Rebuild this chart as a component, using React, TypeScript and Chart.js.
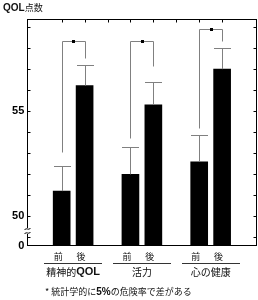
import React, { useEffect, useRef } from 'react';
import { Chart, registerables } from 'chart.js';

Chart.register(...registerables);

// ---- data ----
const xTickLabels = ['', '前', '後', '', '前', '後', '', '前', '後', ''];
const barPositions = [1, 2, 4, 5, 7, 8];
const means = [51.2, 56.23, 52.0, 55.31, 52.59, 57.01];
const errors = [1.21, 0.99, 1.32, 1.11, 1.29, 1.03];
const groupNames = ['精神的QOL', '活力', '心の健康'];
const groupCenters = [1.5, 4.5, 7.5];
const bracketLevels = [58.33, 58.33, 58.94];
const bracketLeftEnds = [53.08, 53.72, 54.2];
const bracketRightEnds = [57.54, 57.14, 58.33];
const yMin = 48.6;
const yMax = 59.4;
const yTickValues = [48.6, 49, 50, 51, 52, 53, 54, 55, 56, 57, 58, 59];
const yTickLabels: Record<string, string> = { '48.6': '0', '50': '50', '55': '55' };
const breakValue = 49.3;
const titleText = 'QOL点数';
const footnoteText = '* 統計学的に5%の危険率で差がある';

const CJK = "'Noto Sans CJK JP', 'Noto Sans', sans-serif";
const LATIN_BOLD = "'Liberation Sans Narrow', 'Liberation Sans', Arial, sans-serif";

function drawRich(ctx: CanvasRenderingContext2D, text: string, x: number, y: number, size: number, align: 'left' | 'center') {
  const runs: { t: string; bold: boolean }[] = [];
  const re = /[A-Za-z0-9%]+/g;
  let last = 0;
  let m: RegExpExecArray | null;
  while ((m = re.exec(text))) {
    if (m.index > last) runs.push({ t: text.slice(last, m.index), bold: false });
    runs.push({ t: m[0], bold: true });
    last = m.index + m[0].length;
  }
  if (last < text.length) runs.push({ t: text.slice(last), bold: false });
  const fontFor = (r: { bold: boolean }) =>
    r.bold ? `bold ${size + 1}px ${LATIN_BOLD}` : `${size}px ${CJK}`;
  let total = 0;
  const widths = runs.map((r) => {
    ctx.font = fontFor(r);
    const w = ctx.measureText(r.t).width;
    total += w;
    return w;
  });
  let cx = align === 'center' ? x - total / 2 : x;
  ctx.textBaseline = 'middle';
  ctx.textAlign = 'left';
  runs.forEach((r, i) => {
    ctx.font = fontFor(r);
    ctx.fillText(r.t, cx, y);
    cx += widths[i];
  });
}

const decorPlugin = {
  id: 'decor',
  afterDatasetsDraw(chart: any) {
    const { ctx, chartArea: a, scales } = chart;
    const x = scales.x;
    const y = scales.y;
    const meta = chart.getDatasetMeta(0);
    const px = (v: number) => Math.round(v) + 0.5;
    ctx.save();
    ctx.lineWidth = 1;
    ctx.strokeStyle = '#000';
    const L = px(a.left - 0.5);
    const R = px(a.right - 0.5);
    const T = px(a.top);
    const B = px(a.bottom - 0.5);
    ctx.strokeRect(L, T, R - L, B - T);

    // inward ticks
    ctx.beginPath();
    yTickValues.forEach((v) => {
      if (v < 49) return;
      const yy = px(y.getPixelForValue(v));
      ctx.moveTo(L, yy);
      ctx.lineTo(L + 3, yy);
      ctx.moveTo(R, yy);
      ctx.lineTo(R - 3, yy);
    });
    for (let i = 1; i < xTickLabels.length - 1; i++) {
      const xx = px(x.getPixelForValue(i));
      ctx.moveTo(xx, T);
      ctx.lineTo(xx, T + 3);
    }
    ctx.stroke();

    // axis break
    const by = y.getPixelForValue(breakValue);
    ctx.fillStyle = '#fff';
    ctx.fillRect(L - 1, by - 3, 3, 6);
    ctx.beginPath();
    [-2, 2].forEach((d) => {
      const yy = by + d;
      ctx.moveTo(L - 3, yy + 1);
      ctx.bezierCurveTo(L - 1, yy - 2, L + 1, yy + 2, L + 3, yy - 1);
    });
    ctx.stroke();

    // error bars
    ctx.strokeStyle = '#808080';
    ctx.beginPath();
    meta.data.forEach((bar: any, i: number) => {
      const cx = px(bar.x);
      const top = y.getPixelForValue(means[i]);
      const et = px(y.getPixelForValue(means[i] + errors[i]));
      const half = bar.width / 2;
      ctx.moveTo(cx, top);
      ctx.lineTo(cx, et);
      ctx.moveTo(cx - half, et);
      ctx.lineTo(cx + half, et);
    });
    // significance brackets
    groupCenters.forEach((_c, g) => {
      const lx = px(x.getPixelForValue(barPositions[g * 2]));
      const rx = px(x.getPixelForValue(barPositions[g * 2 + 1]));
      const ly = px(y.getPixelForValue(bracketLevels[g]));
      ctx.moveTo(lx, px(y.getPixelForValue(bracketLeftEnds[g])));
      ctx.lineTo(lx, ly);
      ctx.lineTo(rx, ly);
      ctx.lineTo(rx, px(y.getPixelForValue(bracketRightEnds[g])));
    });
    ctx.stroke();
    ctx.fillStyle = '#000';
    groupCenters.forEach((_c, g) => {
      const lx = x.getPixelForValue(barPositions[g * 2]);
      const rx = x.getPixelForValue(barPositions[g * 2 + 1]);
      const ly = Math.round(y.getPixelForValue(bracketLevels[g]));
      ctx.fillRect(Math.round((lx + rx) / 2) - 1, ly - 1, 3, 3);
    });
    ctx.restore();
  },
  afterDraw(chart: any) {
    const { ctx, chartArea: a, scales } = chart;
    const x = scales.x;
    ctx.save();
    ctx.fillStyle = '#111';
    ctx.strokeStyle = '#333';
    ctx.lineWidth = 1;
    const lineY = Math.round(a.bottom + 17) + 0.5;
    ctx.beginPath();
    groupCenters.forEach((c) => {
      ctx.moveTo(Math.round(x.getPixelForValue(c - 1.27)), lineY);
      ctx.lineTo(Math.round(x.getPixelForValue(c + 1.27)), lineY);
    });
    ctx.stroke();
    groupCenters.forEach((c, g) => {
      drawRich(ctx, groupNames[g], x.getPixelForValue(c), a.bottom + 26.5, 10, 'center');
    });
    drawRich(ctx, titleText, 3, 8, 9, 'left');
    drawRich(ctx, footnoteText, 45, 292, 9, 'left');
    ctx.restore();
  },
};

export default function App() {
  const canvasRef = useRef<HTMLCanvasElement | null>(null);
  useEffect(() => {
    document.body.style.margin = '0';
    const canvas = canvasRef.current;
    if (!canvas) return;
    const chart = new Chart(canvas, {
      type: 'bar',
      data: {
        datasets: [
          {
            data: barPositions.map((p, i) => ({ x: p, y: means[i] })),
            backgroundColor: '#000',
            borderWidth: 0,
            barThickness: 17,
          },
        ],
      },
      options: {
        animation: false,
        responsive: false,
        devicePixelRatio: 1,
        layout: { padding: { top: 19, right: 1.5, left: 0, bottom: 0 } },
        plugins: { legend: { display: false }, tooltip: { enabled: false } },
        scales: {
          x: {
            type: 'linear',
            min: 0,
            max: xTickLabels.length - 1,
            grid: { display: false, drawTicks: false },
            border: { display: false },
            afterBuildTicks: (scale: any) => {
              scale.ticks = xTickLabels.map((_l, i) => ({ value: i }));
            },
            afterFit: (scale: any) => {
              scale.height = 54.3;
            },
            ticks: {
              autoSkip: false,
              maxRotation: 0,
              padding: 5,
              labelOffset: -3.5,
              color: '#111',
              font: { family: CJK, size: 9 },
              callback: (v: any) => xTickLabels[Math.round(Number(v))] ?? '',
            },
          },
          y: {
            type: 'linear',
            min: yMin,
            max: yMax,
            grid: { display: false, drawTicks: false },
            border: { display: false },
            afterBuildTicks: (scale: any) => {
              scale.ticks = yTickValues.map((v) => ({ value: v }));
            },
            afterFit: (scale: any) => {
              scale.width = 27.3;
            },
            ticks: {
              autoSkip: false,
              padding: 3,
              color: '#000',
              font: { family: LATIN_BOLD, size: 11, weight: 'bold' },
              callback: (v: any) => yTickLabels[String(v)] ?? '',
            },
          },
        },
      },
      plugins: [decorPlugin],
    } as any);
    return () => chart.destroy();
  }, []);
  return (
    <div style={{ width: 258, height: 300 }}>
      <canvas ref={canvasRef} width={258} height={300} style={{ display: 'block' }} />
    </div>
  );
}
